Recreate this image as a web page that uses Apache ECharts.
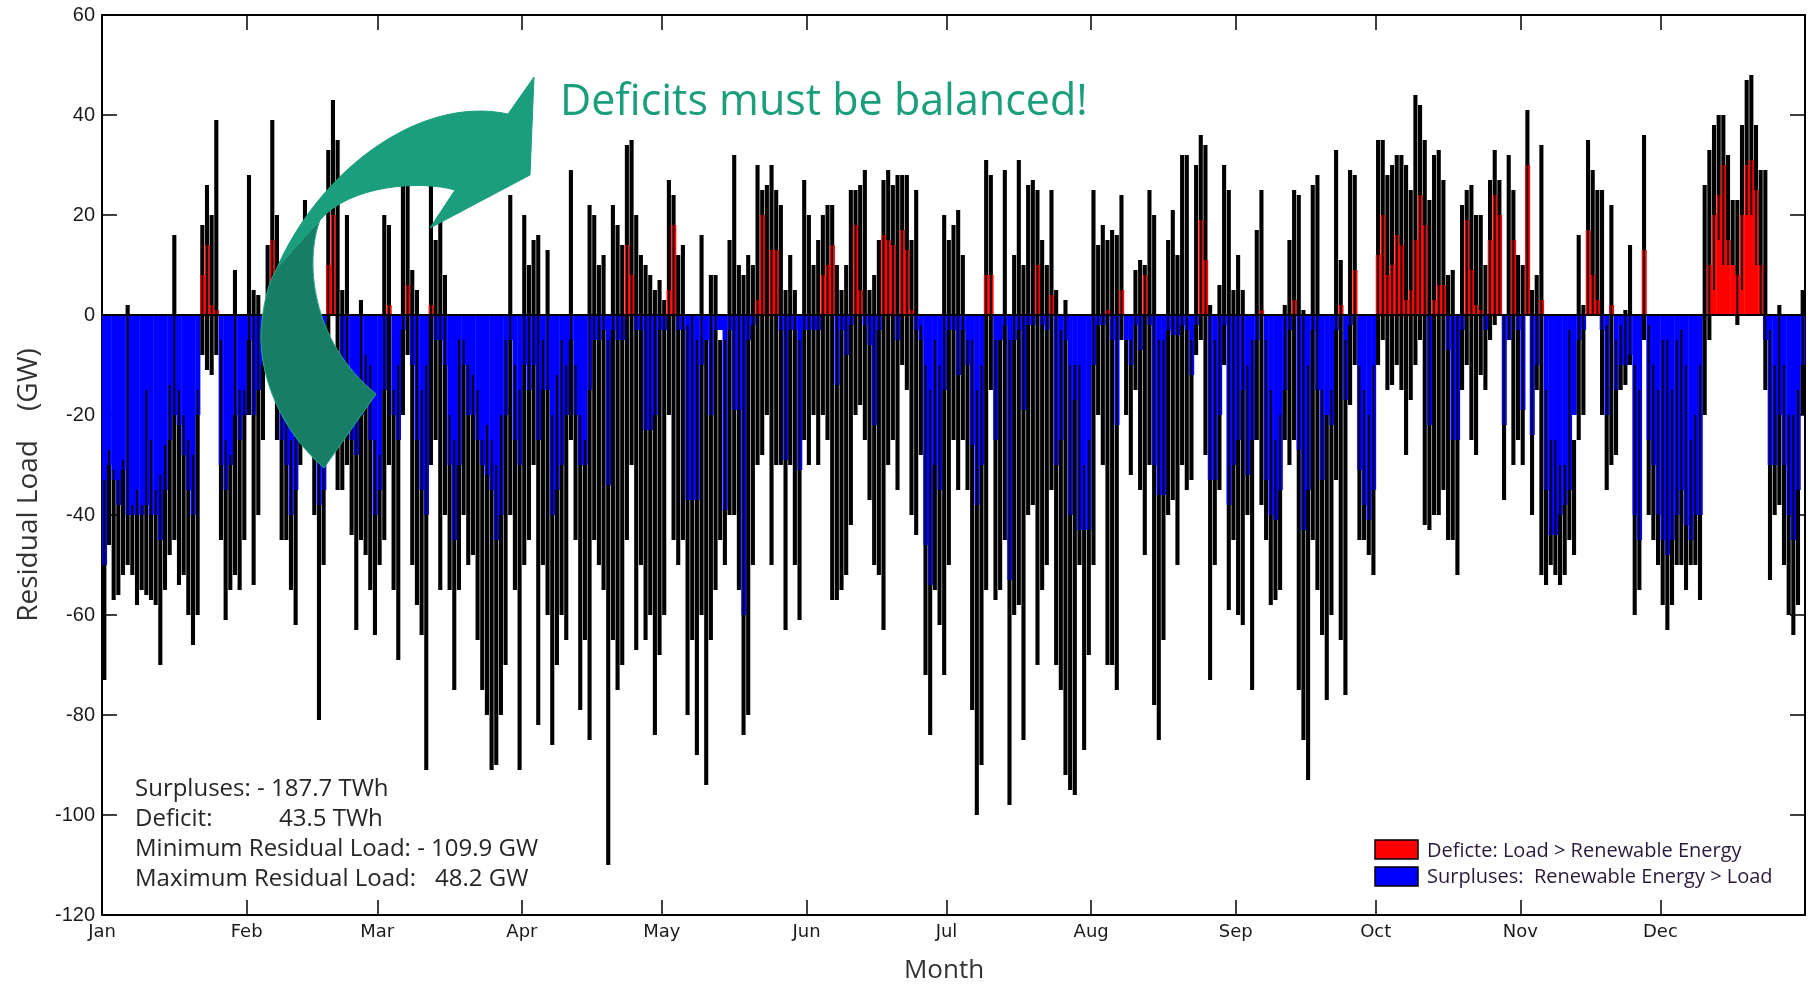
<!DOCTYPE html>
<html>
<head>
<meta charset="utf-8">
<script src="https://cdn.jsdelivr.net/npm/echarts@6/dist/echarts.min.js"></script>
<style>html,body{margin:0;padding:0;background:#fff}#c{width:1810px;height:984px}</style>
</head>
<body>
<div id="c"></div>
<script>
// Month tick labels and the day of the year where each month starts
const monthNames = ['Jan','Feb','Mar','Apr','May','Jun','Jul','Aug','Sep','Oct','Nov','Dec'];
const monthStarts = [0,31,59,90,120,151,181,212,243,273,304,334];

// Daily maximum residual load (GW)
const dayMax = [
-33,-27,-31,-33,-29,2,-38,-35,-38,-15,-25,-35,-32,-26,-14,16,-15,-20,-25,-28,-15,18,26,20,39,-5,-25,-28,9,-15,-15,28,5,4,-5,14,39,20,-10,-15,-25,-20,-10,23,15,-8,-15,-20,33,43,35,5,
20,-15,-20,3,-8,-10,-25,-28,20,18,-15,-10,26,26,9,5,-15,-10,26,15,20,8,-20,-25,-5,-5,-10,-12,-15,-25,-22,-25,-30,-20,-5,24,-10,-15,20,10,15,16,-5,13,-20,-12,-5,-10,29,-10,-20,-25,
22,20,10,12,-5,22,18,14,34,35,20,12,10,8,5,7,3,27,24,12,14,-2,0,-5,16,-5,8,8,-5,-5,15,32,10,8,12,10,30,25,26,30,25,22,5,12,5,-5,27,20,10,15,20,22,
22,10,5,10,25,25,26,29,5,8,15,27,29,26,28,28,28,15,25,-2,-10,-15,-5,-10,20,15,18,21,12,-5,-5,-15,-10,31,28,-5,-5,29,-5,12,31,10,26,27,25,15,10,25,5,-3,3,-10,
-10,-10,-30,-25,25,14,18,15,17,16,24,-5,-5,9,11,10,25,20,-5,-5,15,21,12,32,32,-5,30,36,34,2,-5,6,30,25,5,12,5,-10,-5,17,25,-5,-15,-25,-20,2,15,25,24,1,-10,26,
28,-15,-20,-15,33,11,-5,29,28,-10,-15,-20,-10,35,35,28,30,32,32,30,25,44,42,35,23,32,33,27,8,9,0,22,25,26,20,20,10,27,33,27,0,32,25,12,10,41,5,8,34,-15,-25,-25,
-30,-30,-3,-25,16,2,35,29,25,25,-2,22,-5,-2,1,14,-10,-15,36,-2,-10,-15,-5,-5,-15,-5,-3,-10,-25,-20,-10,26,33,38,40,40,32,23,23,38,47,48,38,29,29,-3,-10,2,-10,-20,-20,-15,5
];
// Daily minimum residual load (GW)
const dayMin = [
-73,-46,-57,-56,-52,-50,-52,-58,-55,-56,-57,-58,-70,-55,-48,-45,-54,-52,-60,-66,-60,-8,-11,-12,-8,-45,-61,-55,-52,-55,-45,-20,-54,-40,-25,-5,-2,-25,-45,-45,-55,-62,-30,-20,-25,-40,-81,-50,-10,0,-35,-35,
-30,-44,-63,-45,-48,-55,-64,-50,-45,-30,-55,-69,-20,-8,-50,-58,-64,-91,-30,-25,-55,-40,-55,-75,-55,-40,-50,-48,-65,-75,-80,-91,-90,-80,-70,-40,-55,-91,-50,-45,-30,-82,-50,-60,-86,-70,-60,-65,-25,-45,-79,-65,
-85,-45,-50,-55,-110,-65,-75,-70,-45,-30,-67,-50,-65,-60,-84,-68,-60,-20,-45,-50,-45,-80,-65,-88,-60,-94,-65,-55,-45,-50,-40,-40,-55,-84,-80,-50,-30,-28,-20,-50,-30,-30,-63,-30,-50,-61,-25,-30,-20,-30,-20,-25,
-57,-57,-55,-52,-42,-20,-18,-25,-37,-50,-52,-63,-30,-25,-35,-10,-15,-40,-44,-28,-72,-84,-55,-62,-72,-50,-25,-35,-25,-35,-79,-100,-90,-55,-15,-57,-55,-45,-98,-60,-58,-85,-40,-38,-70,-55,-50,-35,-70,-75,-92,-95,
-96,-50,-87,-68,-50,-20,-30,-70,-70,-75,-5,-20,-32,-15,-35,-48,-30,-78,-85,-65,-40,-37,-50,-30,-35,-33,-8,-5,-28,-73,-50,-35,-10,-59,-45,-60,-62,-40,-75,-25,-38,-45,-58,-57,-55,-25,-30,-25,-75,-85,-93,-45,
-55,-64,-77,-60,-33,-65,-76,-18,-10,-45,-45,-48,-52,-10,-5,-15,-14,-10,-15,-28,-17,-10,-5,-42,-43,-40,-40,-35,-45,-45,-52,-15,-10,-25,-28,-12,-15,-5,-2,0,-37,-5,-30,-25,-30,0,-40,-15,-52,-54,-50,-52,
-54,-52,-45,-48,-25,-20,0,0,0,-20,-35,-30,-28,-15,-14,-10,-60,-55,-5,-40,-45,-50,-58,-63,-58,-50,-50,-55,-50,-50,-57,-20,-5,5,15,10,10,10,-2,5,20,20,10,0,-15,-53,-40,-38,-50,-60,-64,-58,-20
];
// Sustained daily level (GW): the coloured fill reaches from 0 to this value
const dayLevel = [
-50,-30,-33,-38,-31,-40,-40,-40,-40,-38,-40,-40,-45,-35,-25,-20,-22,-28,-35,-40,-20,8,14,2,1,-30,-35,-30,-20,-25,-20,-5,-20,-15,-10,0,15,0,-25,-30,-40,-35,-15,-5,-10,-25,-38,-35,10,20,0,-15,
-10,-25,-28,-20,-15,-25,-40,-35,-15,2,-20,-25,-3,6,-10,-25,-35,-40,2,-5,-5,-10,-30,-45,-30,-10,-20,-20,-25,-30,-32,-35,-45,-40,-20,-5,-25,-30,-10,-15,-10,-25,-15,-15,-40,-35,-30,-20,-5,-20,-30,-30,
-15,-5,-5,-3,-34,-3,-5,-5,14,8,-3,-3,-23,-23,-20,-3,-3,5,18,-3,-3,-37,-37,-37,-10,-5,-20,-3,-3,-39,-3,-19,-19,-60,-5,-2,3,20,0,13,13,-3,-29,-3,-3,-31,-3,-3,-3,-3,8,10,
14,-14,-3,-8,-2,18,5,-2,-6,-22,-3,16,15,14,-5,17,13,1,-3,-5,-46,-54,-30,-35,-15,-3,-3,-12,-3,-10,-26,-38,-30,8,8,-25,-5,-2,-53,-5,-3,-19,-2,-2,10,-2,-3,4,-30,-25,-5,-40,
-17,-43,-43,-43,-10,-2,-2,1,-5,-22,5,-5,-10,-2,-7,8,-2,-30,-36,-36,-3,-4,-4,-2,-3,-12,-2,19,11,-33,-33,-20,-2,-38,-30,-25,-15,-32,-25,-5,1,-33,-40,-41,-35,-15,-3,3,-27,-43,-35,-3,
-15,-33,-20,-22,-3,2,-17,-2,9,-31,-38,-41,-35,12,20,8,10,16,14,3,5,15,24,18,-22,3,6,6,-7,-25,-25,-3,19,9,2,1,-3,15,24,20,-22,-5,15,-3,-19,30,-24,-10,3,-35,-44,-44,
-40,-38,-35,-20,-5,-3,17,8,3,-3,-20,2,-15,-10,-10,-8,-40,-45,13,-25,-30,-40,-45,-48,-45,-40,-35,-42,-45,-40,-40,0,10,20,24,30,15,10,8,20,30,31,25,10,-5,-30,-30,-20,-30,-40,-45,-35,-10
];

const statLines = ['Surpluses: - 187.7 TWh','Deficit:','43.5 TWh','Minimum Residual Load: - 109.9 GW','Maximum Residual Load:','48.2 GW'];
const legendTexts = ['Deficte: Load > Renewable Energy','Surpluses:  Renewable Energy > Load'];
const annotation = 'Deficits must be balanced!';

const data = dayMax.map((v, i) => [i, v, dayMin[i], dayLevel[i]]);

const chart = echarts.init(document.getElementById('c'), null, {renderer: 'canvas'});
const sansFont = '"Open Sans", "Noto Sans", sans-serif';

const tickStyle = {color: '#000', width: 1.5};
chart.setOption({
  backgroundColor: '#fff',
  animation: false,
  grid: {left: 102, right: 5, top: 15, bottom: 69, containLabel: false},
  xAxis: [{
    type: 'value', min: 0, max: 365, position: 'bottom',
    axisLine: {show: true, onZero: false, lineStyle: {color: '#000', width: 2}},
    axisTick: {show: true, inside: true, length: 15, customValues: monthStarts, lineStyle: tickStyle},
    axisLabel: {show: true, customValues: monthStarts, margin: 8,
      formatter: function (v) { const k = monthStarts.indexOf(v); return k >= 0 ? monthNames[k] : ''; },
      fontFamily: 'DejaVu Sans', fontSize: 18, color: '#1a1a1a'},
    splitLine: {show: false}
  }, {
    type: 'value', min: 0, max: 365, position: 'top',
    axisLine: {show: true, onZero: false, lineStyle: {color: '#000', width: 2}},
    axisTick: {show: true, inside: true, length: 15, customValues: monthStarts, lineStyle: tickStyle},
    axisLabel: {show: false}, splitLine: {show: false}
  }],
  yAxis: [{
    type: 'value', min: -120, max: 60, interval: 20, position: 'left',
    axisLine: {show: true, onZero: false, lineStyle: {color: '#000', width: 2}},
    axisTick: {show: true, inside: true, length: 15, lineStyle: tickStyle},
    axisLabel: {margin: 7, fontFamily: 'Liberation Sans', fontSize: 20, color: '#1a1a1a'},
    splitLine: {show: false}
  }, {
    type: 'value', min: -120, max: 60, interval: 20, position: 'right',
    axisLine: {show: true, onZero: false, lineStyle: {color: '#000', width: 2}},
    axisTick: {show: true, inside: true, length: 15, lineStyle: tickStyle},
    axisLabel: {show: false}, splitLine: {show: false}
  }],
  series: [{
    type: 'custom',
    xAxisIndex: 0, yAxisIndex: 0,
    clip: true,
    data: data,
    encode: {x: 0, y: [1, 2, 3]},
    renderItem: function (params, api) {
      const d = api.value(0), hi = api.value(1), lo = api.value(2), lv = api.value(3);
      const p0 = api.coord([d, 0]);
      const p1 = api.coord([d + 1, 0]);
      const w = p1[0] - p0[0];
      const yOf = v => api.coord([d, v])[1];
      const fLo = Math.min(0, lv), fHi = Math.max(0, lv);
      const kids = [{
        type: 'rect',
        shape: {x: p0[0], y: Math.min(p0[1], yOf(lv)), width: w + 0.4, height: Math.abs(yOf(lv) - p0[1])},
        style: {fill: lv >= 0 ? '#ff0000' : '#0000ff'}
      }, {
        // thin line across the whole daily range
        type: 'rect',
        shape: {x: p0[0] + w * 0.5 - 0.9, y: yOf(hi), width: 1.8, height: yOf(lo) - yOf(hi)},
        style: {fill: '#000'}
      }];
      const xs = p0[0] + w * 0.06, ws = w * 0.88;
      if (lo < fLo) {
        const top = Math.min(hi, fLo);
        kids.push({type: 'rect', shape: {x: xs, y: yOf(top), width: ws, height: yOf(lo) - yOf(top)}, style: {fill: '#000'}});
      }
      if (hi > fHi) {
        const bot = Math.max(lo, fHi);
        kids.push({type: 'rect', shape: {x: xs, y: yOf(hi), width: ws, height: yOf(bot) - yOf(hi)}, style: {fill: '#000'}});
      }
      return {type: 'group', children: kids};
    },
    markLine: {
      silent: true, symbol: 'none', animation: false,
      label: {show: false},
      lineStyle: {color: '#000', width: 2, type: 'solid'},
      data: [{yAxis: 0}]
    }
  }, {
    // decorative curved arrow of the annotation (pixel shapes, not data)
    type: 'custom',
    coordinateSystem: 'none',
    silent: true,
    z: 10,
    data: [0],
    renderItem: function () {
      return {
        type: 'group',
        children: [{
          type: 'path',
          shape: {pathData: 'M320,220 C305,260 310,340 376,394 L324,468 C280,430 255,370 262,320 C265,295 270,280 277,268 Z'},
          style: {fill: '#177d64', stroke: '#2aa888', lineWidth: 1}
        }, {
          type: 'path',
          shape: {pathData: 'M534,77 L530,175 L430,228 L455,190 C420,180 350,185 320,220 L277,268 C320,170 420,95 508,114 Z'},
          style: {fill: '#1a9e7d', stroke: '#1a9e7d', lineWidth: 1}
        }]
      };
    }
  }],
  graphic: [
    {type: 'text', z: 102, left: 560, top: 81, style: {text: annotation, fill: '#1a9e7b', font: '43px ' + sansFont}},
    {type: 'text', z: 50, x: 29, y: 485, rotation: Math.PI / 2,
      style: {text: 'Residual Load    (GW)', fill: '#333', font: '28px ' + sansFont, align: 'center', verticalAlign: 'middle'}},
    {type: 'text', z: 50, x: 944, y: 971, style: {text: 'Month', fill: '#333', font: '26px ' + sansFont, align: 'center', verticalAlign: 'middle'}},
    {type: 'text', z: 50, x: 135, y: 789, style: {text: statLines[0], fill: '#262626', font: '24px ' + sansFont, verticalAlign: 'middle'}},
    {type: 'text', z: 50, x: 135, y: 819, style: {text: statLines[1], fill: '#262626', font: '24px ' + sansFont, verticalAlign: 'middle'}},
    {type: 'text', z: 50, x: 279, y: 819, style: {text: statLines[2], fill: '#262626', font: '24px ' + sansFont, verticalAlign: 'middle'}},
    {type: 'text', z: 50, x: 135, y: 849, style: {text: statLines[3], fill: '#262626', font: '24px ' + sansFont, verticalAlign: 'middle'}},
    {type: 'text', z: 50, x: 135, y: 879, style: {text: statLines[4], fill: '#262626', font: '24px ' + sansFont, verticalAlign: 'middle'}},
    {type: 'text', z: 50, x: 435, y: 879, style: {text: statLines[5], fill: '#262626', font: '24px ' + sansFont, verticalAlign: 'middle'}},
    {type: 'rect', z: 50, shape: {x: 1375, y: 840, width: 43, height: 19}, style: {fill: '#ff0000', stroke: '#000', lineWidth: 1.5}},
    {type: 'rect', z: 50, shape: {x: 1375, y: 867, width: 43, height: 19}, style: {fill: '#0000ff', stroke: '#000', lineWidth: 1.5}},
    {type: 'text', z: 50, x: 1427, y: 851, style: {text: legendTexts[0], fill: '#2a1a3a', font: '20px ' + sansFont, verticalAlign: 'middle'}},
    {type: 'text', z: 50, x: 1427, y: 877, style: {text: legendTexts[1], fill: '#2a1a3a', font: '20px ' + sansFont, verticalAlign: 'middle'}}
  ]
});
</script>
</body>
</html>
